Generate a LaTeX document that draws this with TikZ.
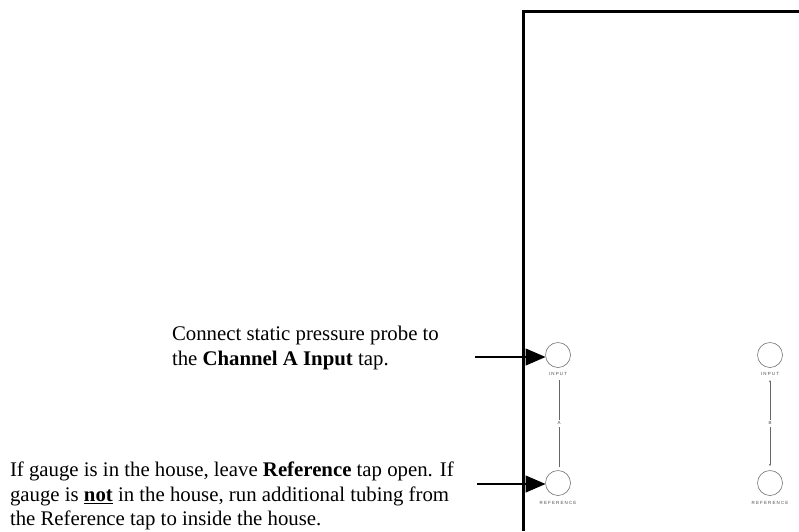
\documentclass[tikz,border=0pt]{standalone}
\usepackage{fontspec}
\setmainfont{Liberation Serif}
\newfontfamily\tagfont[LetterSpace=25]{Liberation Sans}
\usetikzlibrary{arrows.meta, calc}
\newcommand{\tapRadius}{12.5pt}
\newcommand{\wallWidth}{3pt}
\newcommand{\feedWidth}{1.3pt}
\newcommand{\bigArrow}{{Triangle[length=20pt, width=17pt]}}
\newcommand{\smallArrow}{{Latex[length=2.5pt, width=2pt]}}
\tikzstyle{panel}=[draw=none, inner sep=0, outer sep=0]
\tikzstyle{note}=[panel, align=left, anchor=north west, font=\fontsize{20.8}{24.6}\selectfont]
\tikzstyle{tap}=[panel, circle, draw=black!55, line width=0.6pt, minimum size=2*\tapRadius]
\tikzstyle{tag}=[panel, font=\tagfont\fontsize{4.5}{5}\selectfont, text=black!70]
\tikzstyle{wall}=[draw=black, line width=\wallWidth]
\tikzstyle{feed}=[draw=black, line width=\feedWidth, -\bigArrow]
\tikzstyle{tube}=[draw=black!60, line width=0.5pt]

\begin{document}
\begin{tikzpicture}[x=1pt, y=-1pt]

% Frame
\useasboundingbox (0,0) rectangle (799,531);

% House wall
\draw[wall] (523,531) -- (523,11) -- (800,11);

% Taps
\node[tap] (inputA) at (558,355) {};
\node[tap] (refA) at (558,483) {};
\node[tap] (inputB) at (770,355) {};
\node[tap] (refB) at (770,483) {};

% Tap labels
\node[tag, anchor=north] (inputAlbl) at ($(inputA.south)+(0,5)$) {INPUT};
\node[tag, anchor=north] (refAlbl) at ($(refA.south)+(0,6)$) {REFERENCE};
\node[tag, anchor=north] (inputBlbl) at ($(inputB.south)+(0,5)$) {INPUT};
\node[tag, anchor=north] (refBlbl) at ($(refB.south)+(0,6)$) {REFERENCE};

% Channels
\draw[tube] ($(inputAlbl.south)+(1,4)$) -- ($(refA.north)+(1,-4)$)
  node[tag, midway, fill=white, inner sep=2pt] (chanA) {A};
\draw[tube, \smallArrow-\smallArrow] ($(inputBlbl.south)+(0,4)$) -- ($(refB.north)+(0,-4)$)
  node[tag, midway, fill=white, inner sep=2pt] (chanB) {B};

% Notes
\node[note] (probeNote) at (172,326)
  {Connect static pressure probe to\\the \textbf{Channel A Input} tap.};
\node[note] (refNote) at (10,462)
  {If gauge is in the house, leave \textbf{Reference} tap open. If\\
   gauge is \underline{\textbf{not}} in the house, run additional tubing from\\
   the Reference tap to inside the house.};

% Feed arrows
\coordinate (probeIn) at (475,357);
\coordinate (tubeRef) at (477,484);
\draw[feed] (probeIn) -- (inputA.west|-probeIn);
\draw[feed] (tubeRef) -- (refA.west|-tubeRef);

\end{tikzpicture}
\end{document}
